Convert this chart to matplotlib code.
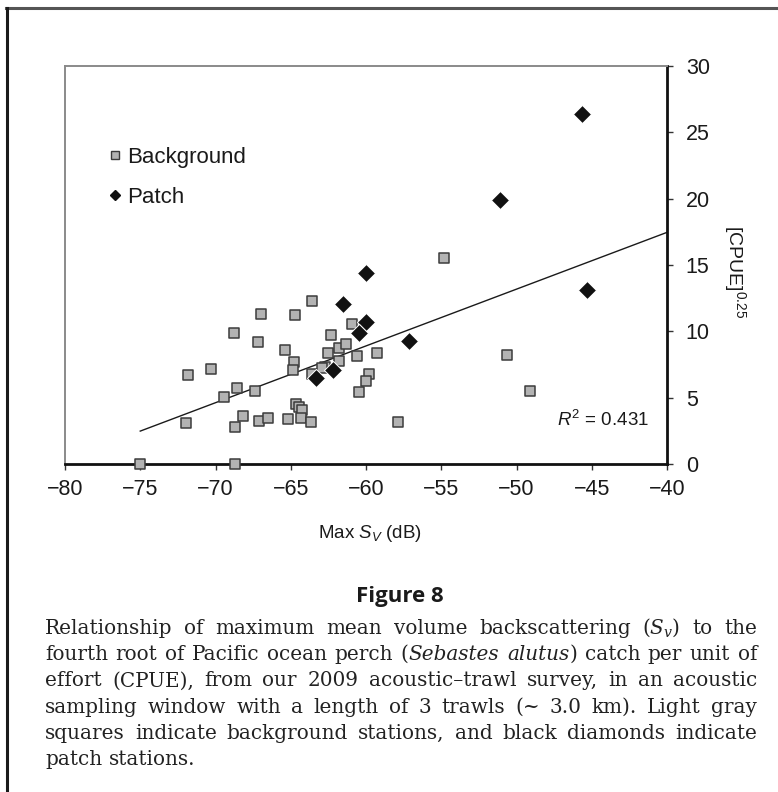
import matplotlib
matplotlib.use("Agg")
import matplotlib.pyplot as plt
from matplotlib.lines import Line2D
import numpy as np

# ---------------- data ----------------
background_sv = [-75.0, -68.7, -71.95, -71.8, -70.3, -69.45, -68.6, -68.7, -68.2, -68.75,
                 -67.4, -67.12, -66.5, -67.15, -66.95, -65.38, -64.78, -64.88, -64.75, -65.2,
                 -64.68, -64.42, -64.22, -64.33, -63.65, -63.6, -63.6, -62.5, -62.3, -62.7,
                 -62.95, -61.78, -61.78, -61.35, -60.92, -60.6, -59.78, -60.0, -60.47, -59.3,
                 -57.85, -54.84, -50.63, -49.08]
background_cpue = [0.0, 0.0, 3.1, 6.7, 7.15, 5.05, 5.75, 2.76, 3.6, 9.9,
                   5.5, 3.22, 3.44, 9.2, 11.28, 8.6, 7.68, 7.08, 11.23, 3.4,
                   4.5, 4.27, 4.1, 3.44, 3.19, 12.28, 6.75, 8.36, 9.72, 7.3,
                   7.2, 7.78, 8.78, 9.03, 10.58, 8.14, 6.75, 6.22, 5.44, 8.39,
                   3.2, 15.52, 8.24, 5.5]

patch_sv = [-63.34, -62.2, -61.55, -60.0, -59.98, -60.48, -57.14, -51.1, -45.67, -45.34]
patch_cpue = [6.5, 7.08, 12.05, 14.42, 10.69, 9.9, 9.27, 19.87, 26.38, 13.11]

trend_slope = 0.428
trend_intercept = 34.58
trend_x_range = [-75.0, -40.0]
r_squared_label = "0.431"

x_ticks = [-80, -75, -70, -65, -60, -55, -50, -45, -40]
y_ticks = [0, 5, 10, 15, 20, 25, 30]

series_labels = ["Background", "Patch"]
x_label = "Max $S_V$ (dB)"
y_label = "[CPUE]$^{0.25}$"
figure_title = "Figure 8"
caption_lines = [
    "Relationship of maximum mean volume backscattering ($S_v$) to the",
    "fourth root of Pacific ocean perch (*Sebastes* *alutus*) catch per unit of",
    "effort (CPUE), from our 2009 acoustic\u2013trawl survey, in an acoustic",
    "sampling window with a length of 3 trawls (~ 3.0 km). Light gray",
    "squares indicate background stations, and black diamonds indicate",
    "patch stations.",
]

# ---------------- figure ----------------
W, H = 778, 792
plt.rcParams['font.family'] = ['Liberation Sans', 'DejaVu Sans']
plt.rcParams['mathtext.fontset'] = 'custom'
plt.rcParams['mathtext.rm'] = 'Liberation Sans'
plt.rcParams['mathtext.it'] = 'Liberation Sans:italic'
plt.rcParams['mathtext.bf'] = 'Liberation Sans:bold'

fig = plt.figure(figsize=(W / 100, H / 100), dpi=100)

def fx(px):
    return px / W

def fy(py):
    return 1 - py / H

ax_l, ax_r, ax_t, ax_b = 65, 667, 66, 464
ax = fig.add_axes([fx(ax_l), fy(ax_b), (ax_r - ax_l) / W, (ax_b - ax_t) / H])

# trend line
tx = np.array(trend_x_range)
ax.plot(tx, trend_intercept + trend_slope * tx, color='#1a1a1a', lw=1.0, zorder=2)

# points
ax.scatter(background_sv, background_cpue, marker='s', s=7.8**2, facecolor='#b3b3b3',
           edgecolor='#3c3c3c', linewidth=1.1, zorder=5, clip_on=False)
ax.scatter(patch_sv, patch_cpue, marker='D', s=9.2**2, facecolor='#111111',
           edgecolor='white', linewidth=0.7, zorder=6, clip_on=False)

ax.set_xlim(-80, -40)
ax.set_ylim(0, 30)
ax.set_xticks(x_ticks)
ax.set_yticks(y_ticks)

for side in ['left', 'top']:
    ax.spines[side].set_color('#8a8a8a')
    ax.spines[side].set_linewidth(1.4)
for side in ['bottom', 'right']:
    ax.spines[side].set_color('#111111')
    ax.spines[side].set_linewidth(2.0)

ax.tick_params(axis='x', direction='out', length=4.5, width=1.0, color='#333333',
               labelsize=15.5, pad=6, labelcolor='#1a1a1a')
ax.tick_params(axis='y', direction='out', length=4.5, width=1.0, color='#333333',
               labelsize=15.5, pad=9, left=False, labelleft=False,
               right=True, labelright=True, labelcolor='#1a1a1a')

ax.set_xlabel(x_label, fontsize=13.5, color='#1a1a1a')
ax.xaxis.set_label_coords((370 - ax_l) / (ax_r - ax_l), (ax_b - 534) / (ax_b - ax_t))
ax.xaxis.label.set_va('center')

ax.yaxis.set_label_position('right')
ax.set_ylabel(y_label, fontsize=14, rotation=-90, color='#1a1a1a')
ax.yaxis.set_label_coords((735 - ax_l) / (ax_r - ax_l), (ax_b - 272) / (ax_b - ax_t))
ax.yaxis.label.set_va('center')
ax.yaxis.label.set_ha('center')

ax.text(-41.2, 3.35, "$R^2$ = " + r_squared_label, ha='right', va='center',
        fontsize=13.5, color='#1a1a1a')

# legend
h_bg = Line2D([], [], ls='none', marker='s', markersize=6, markerfacecolor='#b3b3b3',
              markeredgecolor='#3c3c3c', markeredgewidth=1.0)
h_p = Line2D([], [], ls='none', marker='D', markersize=5, markerfacecolor='#111111',
             markeredgecolor='#111111')
leg = ax.legend([h_bg, h_p], series_labels, loc='upper left',
                bbox_to_anchor=((108 - ax_l) / (ax_r - ax_l), (ax_b - 147) / (ax_b - ax_t)),
                frameon=False, fontsize=16, handlelength=0.6, handletextpad=0.25,
                labelspacing=0.85, borderpad=0, borderaxespad=0)
for t in leg.get_texts():
    t.set_color('#1a1a1a')

# outer frame (top and left)
fig.add_artist(Line2D([fx(6), 1], [fy(8), fy(8)], color='#555555', lw=2.2,
                      transform=fig.transFigure))
fig.add_artist(Line2D([fx(7), fx(7)], [0, fy(8)], color='#1a1a1a', lw=2.2,
                      transform=fig.transFigure))

# figure title
fig.text(fx(400), fy(602), figure_title, ha='center', va='baseline',
         family=['Open Sans', 'DejaVu Sans'], fontweight='bold', fontsize=16,
         color='#1a1a1a')

# caption (justified)
renderer = fig.canvas.get_renderer()
cap_left, cap_right = 45, 757
base0, line_step = 634, 26.2
cap_size = 14.4

for li, line in enumerate(caption_lines):
    words = line.split(' ')
    word_parts = []
    word_widths = []
    for w in words:
        parts = w.split('*')
        objs = []
        total = 0.0
        for i, p in enumerate(parts):
            if not p:
                continue
            t = fig.text(0, fy(base0 + li * line_step), p, ha='left', va='baseline',
                         family='DejaVu Serif', fontstyle='italic' if i % 2 else 'normal',
                         fontsize=cap_size, color='#222222', math_fontfamily='dejavuserif')
            wpx = t.get_window_extent(renderer).width
            objs.append((t, wpx))
            total += wpx
        word_parts.append(objs)
        word_widths.append(total)
    last = li == len(caption_lines) - 1
    if last or len(words) == 1:
        gap = cap_size * 100 / 72 * 0.32
    else:
        gap = (cap_right - cap_left - sum(word_widths)) / (len(words) - 1)
    x = cap_left
    for objs, ww in zip(word_parts, word_widths):
        cx = x
        for t, wpx in objs:
            t.set_x(fx(cx))
            cx += wpx
        x += ww + gap

fig.savefig("out.png", dpi=100)
